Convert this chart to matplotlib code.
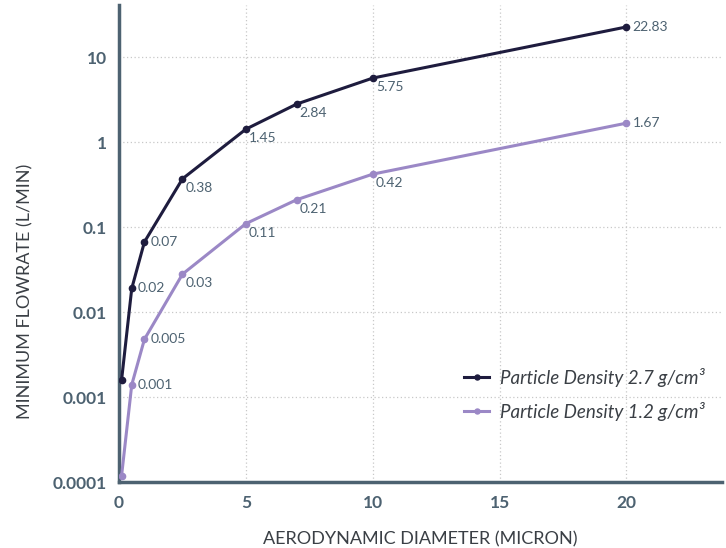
import matplotlib
matplotlib.use("Agg")
from matplotlib import pyplot as plt

plt.rcParams["font.family"] = ["Lato", "DejaVu Sans"]

# aerodynamic diameter (micron)
diam = [0.1, 0.5, 1, 2.5, 5, 7, 10, 20]
# minimum flowrate (L/min) for each density
flow_27 = [0.0016, 0.019, 0.067, 0.37, 1.42, 2.8, 5.66, 22.6]
flow_12 = [0.00012, 0.0014, 0.0048, 0.028, 0.11, 0.21, 0.42, 1.67]
labels_27 = ["", "0.02", "0.07", "0.38", "1.45", "2.84", "5.75", "22.83"]
labels_12 = ["", "0.001", "0.005", "0.03", "0.11", "0.21", "0.42", "1.67"]

yticks = [0.0001, 0.001, 0.01, 0.1, 1, 10]
ytick_labels = ["0.0001", "0.001", "0.01", "0.1", "1", "10"]
xticks = [0, 5, 10, 15, 20]

dark = "#1e1c3e"
light = "#9b88c6"
slate = "#4d6271"

fig = plt.figure(figsize=(7.26, 5.48), dpi=100)
ax = fig.add_axes([0.164, 0.12, 0.83, 0.871])

ax.plot(diam, flow_27, color=dark, lw=2.2, marker="o", ms=4.5,
        label="Particle Density 2.7 g/cm³", zorder=3)
ax.plot(diam, flow_12, color=light, lw=2.2, marker="o", ms=4.5,
        label="Particle Density 1.2 g/cm³", zorder=3)

def put_labels(xs, ys, texts):
    for x, y, t in zip(xs, ys, texts):
        if not t:
            continue
        if x <= 1 or x >= 20:
            off, va = (6, 0), "center"
        else:
            off, va = (3, -3), "top"
        ax.annotate(t, (x, y), xytext=off, textcoords="offset pixels",
                    ha="left", va=va, fontsize=10, color=slate)

put_labels(diam, flow_27, labels_27)
put_labels(diam, flow_12, labels_12)

ax.set_yscale("log")
ax.set_xlim(0, 23.75)
ax.set_ylim(0.0001, 41)
ax.set_yticks(yticks)
ax.set_yticklabels(ytick_labels)
ax.minorticks_off()
ax.set_xticks(xticks)
ax.tick_params(length=0, pad=9, labelsize=12.5, colors=slate)
for lab in ax.get_xticklabels() + ax.get_yticklabels():
    lab.set_fontweight("bold")

ax.grid(True, color="#c8c8c8", ls=(0, (1, 2)), lw=0.9)
for s in ["top", "right"]:
    ax.spines[s].set_visible(False)
for s in ["left", "bottom"]:
    ax.spines[s].set_color(slate)
    ax.spines[s].set_linewidth(2.5)

ax.set_xlabel("AERODYNAMIC DIAMETER (MICRON)", fontsize=13, color="#3a3f45",
              va="center")
ax.set_ylabel("MINIMUM FLOWRATE (L/MIN)", fontsize=13, color="#3a3f45",
              va="center")
ax.xaxis.set_label_coords(0.5, -0.12)
ax.yaxis.set_label_coords(-0.155, 0.40)

leg = ax.legend(loc="lower right", bbox_to_anchor=(1.0, 0.093), frameon=False,
                prop={"style": "italic", "size": 13.5}, handlelength=1.3,
                handletextpad=0.6, labelspacing=0.8, markerscale=0.8)
for t in leg.get_texts():
    t.set_color("#3a3f45")

fig.savefig("out.png", dpi=100)
